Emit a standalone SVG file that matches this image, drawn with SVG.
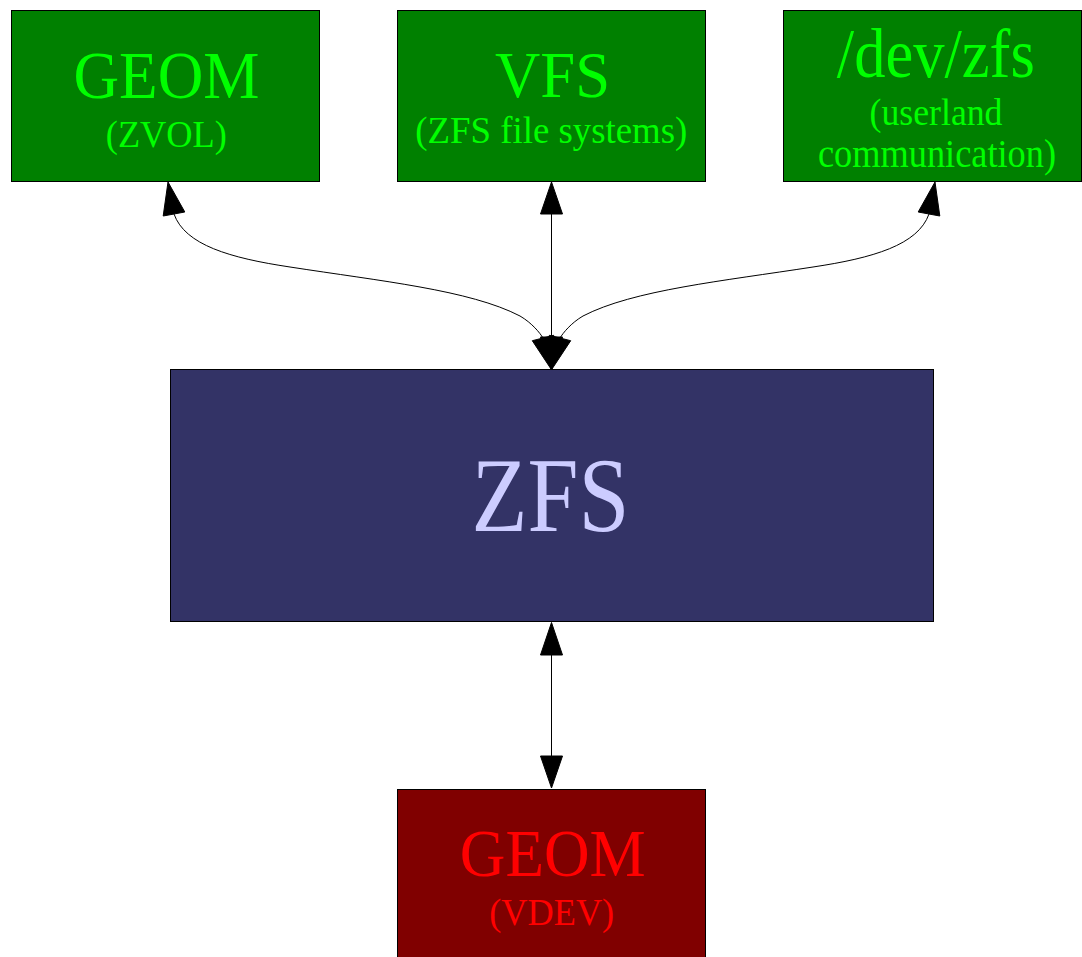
<svg xmlns="http://www.w3.org/2000/svg" width="1082" height="957" viewBox="0 0 1082 957">
<style>
.box{stroke:#000;stroke-width:1}
.g{fill:#008000}
.gt{fill:#00ff00}
.n{fill:#333366}
.nt{fill:#ccccff}
.r{fill:#800000}
.rt{fill:#ff0000}
text{font-family:"Liberation Serif","Times New Roman",serif;text-anchor:middle}
.edge{fill:none;stroke:#000;stroke-width:1}
.head{fill:#000;stroke:#000;stroke-width:1}
</style>
<rect width="1082" height="957" fill="#fff"/>
<g id="connectors">
<path class="edge" d="M174,214 C185,245 230,258 290,267 C380,281 470,290 520,316 C532,323 540,333 543,338"/>
<path class="edge" d="M929,214 C918,245 873,258 813,267 C723,281 633,290 583,316 C571,323 563,333 560,338"/>
<path class="edge" d="M551.5,214 L551.5,338"/>
<path class="edge" d="M551.5,655 L551.5,756"/>
<polygon class="head" points="168,182 184.8,212 163.2,216"/>
<polygon class="head" points="935,182 918.2,212 939.8,216"/>
<polygon class="head" points="551.5,182 540.5,214 562.5,214"/>
<polygon class="head" points="551,369 553.7,335.3 532.3,340.7"/>
<polygon class="head" points="552,369 549.3,335.3 570.7,340.7"/>
<polygon class="head" points="551.5,369 540.5,337 562.5,337"/>
<polygon class="head" points="551.5,622.5 540.5,655 562.5,655"/>
<polygon class="head" points="551.5,788 540.5,756 562.5,756"/>
</g>
<g id="geom-zvol">
<rect class="box g" x="11.5" y="10.5" width="308" height="171"/>
<text class="gt" x="166.5" y="97.7" font-size="68" textLength="186" lengthAdjust="spacingAndGlyphs">GEOM</text>
<text class="gt" x="166.3" y="146.7" font-size="38" textLength="121" lengthAdjust="spacingAndGlyphs">(ZVOL)</text>
</g>
<g id="vfs">
<rect class="box g" x="397.5" y="10.5" width="308" height="171"/>
<text class="gt" x="552.5" y="96.7" font-size="66" textLength="115" lengthAdjust="spacingAndGlyphs">VFS</text>
<text class="gt" x="551.3" y="143" font-size="38" textLength="272" lengthAdjust="spacingAndGlyphs">(ZFS file systems)</text>
</g>
<g id="devzfs">
<rect class="box g" x="783.5" y="10.5" width="298" height="171"/>
<text class="gt" x="935.8" y="76.7" font-size="70" textLength="198" lengthAdjust="spacingAndGlyphs">/dev/zfs</text>
<text class="gt" x="936" y="125" font-size="38" textLength="133" lengthAdjust="spacingAndGlyphs">(userland</text>
<text class="gt" x="937" y="166.5" font-size="39" textLength="238" lengthAdjust="spacingAndGlyphs">communication)</text>
</g>
<g id="zfs">
<rect class="box n" x="170.5" y="369.5" width="763" height="252"/>
<text class="nt" x="550.5" y="530.5" font-size="105" textLength="158" lengthAdjust="spacingAndGlyphs">ZFS</text>
</g>
<g id="geom-vdev">
<rect class="box r" x="397.5" y="789.5" width="308" height="170"/>
<text class="rt" x="552.8" y="875.7" font-size="68" textLength="186" lengthAdjust="spacingAndGlyphs">GEOM</text>
<text class="rt" x="551.7" y="925" font-size="38" textLength="125" lengthAdjust="spacingAndGlyphs">(VDEV)</text>
</g>
</svg>
